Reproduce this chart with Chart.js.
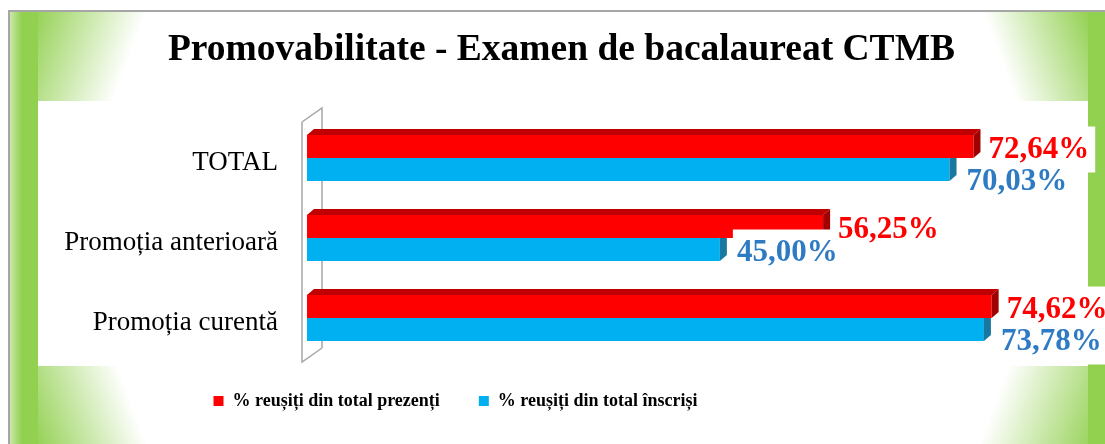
<!DOCTYPE html>
<html lang="ro">
<head>
<meta charset="utf-8">
<title>Promovabilitate - Examen de bacalaureat CTMB</title>
<script src="https://cdn.jsdelivr.net/npm/chart.js@4.4.1/dist/chart.umd.min.js"></script>
<style>
  html, body { margin: 0; padding: 0; background: #fff; }
  #wrap { position: relative; width: 1105px; height: 444px; }
</style>
</head>
<body>
<div id="wrap"><canvas id="grafic"></canvas></div>
<script>
// date
const titlu = 'Promovabilitate - Examen de bacalaureat CTMB';
const categorii = ['TOTAL', 'Promoția anterioară', 'Promoția curentă'];
const numeSerii = ['% reușiți din total prezenți', '% reușiți din total înscriși'];
const reusitiPrezenti = [72.64, 56.25, 74.62];
const reusitiInscrisi = [70.03, 45.00, 73.78];

const VERDE = '#92D050';
const SERIF = '"Liberation Serif", "Times New Roman", serif';

function formatProcent(v) {
    return v.toFixed(2).replace('.', ',') + '%';
}

// fundalul cu colturi verzi si zona alba a graficului
const fundal = {
    id: 'fundal',
    beforeDraw(chart) {
        const ctx = chart.ctx;
        const W = chart.width, H = chart.height;
        ctx.save();
        ctx.fillStyle = '#fff';
        ctx.fillRect(0, 0, W, H);

        const colt = (x0, y0, x1, y1, rx, ry, rw, rh) => {
            const g = ctx.createLinearGradient(x0, y0, x1, y1);
            g.addColorStop(0, VERDE);
            g.addColorStop(1, 'rgba(146,208,80,0)');
            ctx.fillStyle = g;
            ctx.fillRect(rx, ry, rw, rh);
        };
        colt(33, 11, 133, 48, 9, 11, 543, 220);
        colt(33, 444, 133, 407, 9, 231, 543, H - 231);
        colt(1090, 11, 996, 46, 552, 11, W - 552, 220);
        colt(1100, 444, 994, 405, 552, 231, W - 552, H - 231);

        // benzile laterale
        ctx.fillStyle = VERDE;
        ctx.fillRect(9, 11, 29, H - 11);
        ctx.fillRect(1088, 11, W - 1088, H - 11);
        const lumina = ctx.createLinearGradient(9, 0, 22, 0);
        lumina.addColorStop(0, 'rgba(255,255,255,0.55)');
        lumina.addColorStop(1, 'rgba(255,255,255,0)');
        ctx.fillStyle = lumina;
        ctx.fillRect(9, 11, 13, H - 11);

        // chenarul exterior
        ctx.strokeStyle = '#A6A6A6';
        ctx.lineWidth = 2;
        ctx.beginPath();
        ctx.moveTo(9, H);
        ctx.lineTo(9, 11);
        ctx.lineTo(W, 11);
        ctx.stroke();

        // zona alba a graficului
        ctx.fillStyle = '#fff';
        ctx.fillRect(38, 101, 1050, 265);
        ctx.restore();
    }
};

// peretele 3D din spatele barelor
const perete = {
    id: 'perete',
    beforeDatasetsDraw(chart) {
        const ctx = chart.ctx;
        const a = chart.chartArea;
        ctx.save();
        ctx.strokeStyle = '#A6A6A6';
        ctx.lineWidth = 1.5;
        ctx.beginPath();
        ctx.moveTo(a.left - 5, a.top + 4);
        ctx.lineTo(a.left + 15, a.top - 10);
        ctx.lineTo(a.left + 15, a.bottom - 10);
        ctx.moveTo(a.left - 5, a.top + 4);
        ctx.lineTo(a.left - 5, a.bottom + 4);
        ctx.lineTo(a.left + 15, a.bottom - 10);
        ctx.stroke();
        ctx.restore();
    }
};

// fetele de sus si laterale ale barelor
const bare3D = {
    id: 'bare3D',
    afterDatasetDraw(chart, args) {
        const ctx = chart.ctx;
        const ds = chart.data.datasets[args.index];
        const dx = 7, dy = 6;
        ctx.save();
        args.meta.data.forEach(el => {
            const sus = el.y - el.height / 2;
            const jos = el.y + el.height / 2;
            ctx.fillStyle = ds.culoareSus;
            ctx.beginPath();
            ctx.moveTo(el.base, sus);
            ctx.lineTo(el.base + dx, sus - dy);
            ctx.lineTo(el.x + dx, sus - dy);
            ctx.lineTo(el.x, sus);
            ctx.closePath();
            ctx.fill();
            ctx.fillStyle = ds.culoareLaterala;
            ctx.beginPath();
            ctx.moveTo(el.x, sus);
            ctx.lineTo(el.x + dx, sus - dy);
            ctx.lineTo(el.x + dx, jos - dy);
            ctx.lineTo(el.x, jos);
            ctx.closePath();
            ctx.fill();
        });
        ctx.restore();
    }
};

// etichetele cu valori, pe fond alb
const eticheteValori = {
    id: 'eticheteValori',
    afterDatasetsDraw(chart) {
        const ctx = chart.ctx;
        const font = 'bold 31px ' + SERIF;
        const rosii = chart.getDatasetMeta(0).data;
        const albastre = chart.getDatasetMeta(1).data;
        const items = [];
        ctx.save();
        ctx.font = font;
        rosii.forEach((el, i) => {
            const r = { text: formatProcent(reusitiPrezenti[i]), x: el.x + 15, y: el.y + 3, color: '#FF0000' };
            const b = { text: formatProcent(reusitiInscrisi[i]), x: albastre[i].x + 17, y: albastre[i].y + 3, color: '#2E7BC4' };
            r.w = ctx.measureText(r.text).width;
            b.w = ctx.measureText(b.text).width;
            if (b.x < r.x + r.w && b.x + b.w > r.x) {
                b.y = Math.max(b.y, r.y + 32);
            }
            items.push(r, b);
        });
        items.forEach(it => {
            ctx.fillStyle = '#fff';
            ctx.fillRect(it.x - 4, it.y - 23, it.w + 10, 46);
        });
        ctx.textBaseline = 'middle';
        items.forEach(it => {
            ctx.fillStyle = it.color;
            ctx.fillText(it.text, it.x, it.y);
        });
        ctx.restore();
    }
};

// muta titlul si legenda ca in original
const asezare = {
    id: 'asezare',
    afterLayout(chart) {
        chart.titleBlock.left += 41;
        chart.titleBlock.right += 41;
        chart.legend.left -= 65;
        chart.legend.right -= 65;
        chart.legend.top -= 5;
        chart.legend.bottom -= 5;
    }
};

const ctx = document.getElementById('grafic').getContext('2d');
new Chart(ctx, {
    type: 'bar',
    data: {
        labels: categorii,
        datasets: [
            {
                label: numeSerii[0],
                data: reusitiPrezenti,
                backgroundColor: '#FF0000',
                culoareSus: '#C00000',
                culoareLaterala: '#A00000',
                borderWidth: 0
            },
            {
                label: numeSerii[1],
                data: reusitiInscrisi,
                backgroundColor: '#00B0F0',
                culoareSus: '#0090C8',
                culoareLaterala: '#1878A0',
                borderWidth: 0
            }
        ]
    },
    options: {
        indexAxis: 'y',
        responsive: true,
        maintainAspectRatio: false,
        devicePixelRatio: 1,
        animation: false,
        categoryPercentage: 0.575,
        barPercentage: 1,
        layout: {
            padding: { top: 0, right: 64, bottom: 19, left: 0 }
        },
        scales: {
            x: {
                display: false,
                min: 0,
                max: 80
            },
            y: {
                grid: { display: false },
                border: { display: false },
                ticks: {
                    color: '#000',
                    font: { family: SERIF, size: 27 },
                    padding: 21,
                    labelOffset: 5
                },
                afterFit(scale) {
                    scale.width = 307;
                }
            }
        },
        plugins: {
            title: {
                display: true,
                text: titlu,
                color: '#000',
                font: { family: SERIF, size: 37.5, weight: 'bold' },
                padding: { top: 28, bottom: 45 }
            },
            legend: {
                position: 'bottom',
                labels: {
                    color: '#000',
                    font: { family: SERIF, size: 18, weight: 'bold' },
                    boxWidth: 10,
                    boxHeight: 10,
                    padding: 39
                }
            },
            tooltip: { enabled: false }
        }
    },
    plugins: [fundal, perete, bare3D, eticheteValori, asezare]
});
</script>
</body>
</html>
